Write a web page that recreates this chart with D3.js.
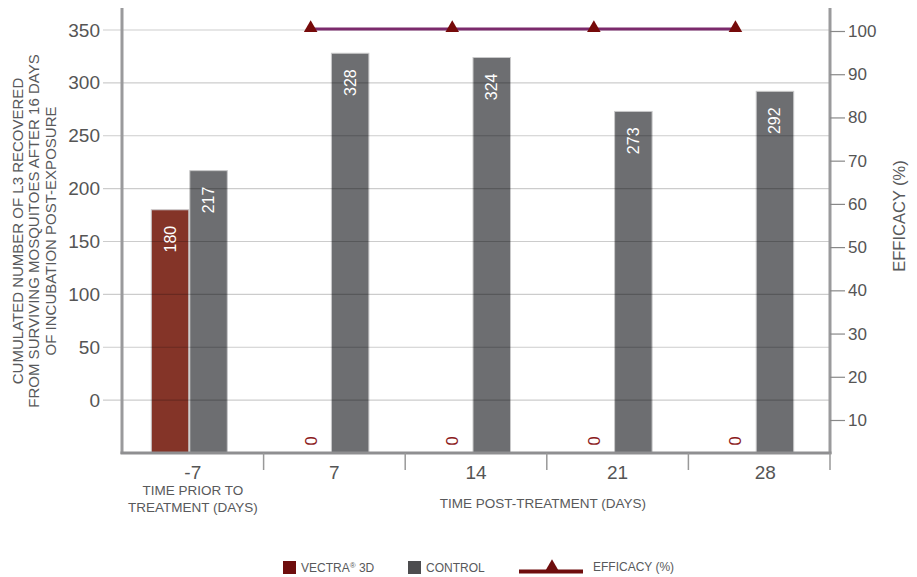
<!DOCTYPE html>
<html>
<head>
    <meta charset="UTF-8">
    <title>Chart</title>
    <script src="https://cdn.jsdelivr.net/npm/d3@7"></script>
    <style>
        body { margin: 0; background: #fff; }
        text { font-family: "Liberation Sans", Arial, sans-serif; }
    </style>
</head>
<body>
<div id="graph-container"></div>
<script>
    // Chart data
    const categories = ["-7", "7", "14", "21", "28"];
    const vectra = [180, 0, 0, 0, 0];
    const control = [217, 328, 324, 273, 292];
    const efficacyDays = ["7", "14", "21", "28"];
    const efficacy = [100, 100, 100, 100];
    const leftTicks = [0, 50, 100, 150, 200, 250, 300, 350];
    const rightTicks = [10, 20, 30, 40, 50, 60, 70, 80, 90, 100];

    const W = 917, H = 577;
    const plot = { left: 122, right: 830, top: 8, bottom: 453 };

    const svg = d3.select("#graph-container")
        .append("svg")
        .attr("width", W)
        .attr("height", H);

    // Scales
    const x = d3.scaleBand().domain(categories).range([plot.left, plot.right]);
    const xSub = d3.scaleBand().domain(["vectra", "control"]).range([-42, 35]);
    const yL = d3.scaleLinear().domain([-50, 350]).range([plot.bottom, 30]);
    const yR = d3.scaleLinear().domain([10, 100]).range([420, 31]);
    const center = c => x(c) + x.bandwidth() / 2;

    const rows = categories.map((c, i) => ({ cat: c, vectra: vectra[i], control: control[i] }));

    // Bars (drawn from the bottom of the plot)
    const series = [
        { key: "vectra", color: "#843428" },
        { key: "control", color: "#6d6e71" }
    ];
    series.forEach(s => {
        svg.selectAll(".bar-" + s.key)
            .data(rows.filter(d => d[s.key] > 0))
            .join("rect")
            .attr("class", "bar-" + s.key)
            .attr("x", d => center(d.cat) + xSub(s.key) + 0.5)
            .attr("width", xSub.bandwidth() - 1)
            .attr("y", d => yL(d[s.key]))
            .attr("height", d => plot.bottom - yL(d[s.key]))
            .attr("fill", s.color)
            .attr("stroke", "#c9c9ca")
            .attr("stroke-width", 1);
    });

    // Gridlines over bars
    svg.append("g")
        .selectAll("line")
        .data(leftTicks)
        .join("line")
        .attr("x1", 103)
        .attr("x2", plot.right)
        .attr("y1", d => yL(d))
        .attr("y2", d => yL(d))
        .attr("stroke", "#000")
        .attr("stroke-opacity", 0.2)
        .attr("stroke-width", 1.2);

    // Bar value labels
    series.forEach(s => {
        svg.selectAll(".lbl-" + s.key)
            .data(rows.filter(d => d[s.key] > 0))
            .join("text")
            .attr("class", "lbl-" + s.key)
            .attr("transform", d => {
                const cx = center(d.cat) + xSub(s.key) + xSub.bandwidth() / 2;
                return `translate(${cx},${yL(d[s.key]) + 16}) rotate(-90)`;
            })
            .attr("text-anchor", "end")
            .attr("dominant-baseline", "central")
            .attr("fill", "#fff")
            .style("font-size", "16px")
            .text(d => d[s.key]);
    });

    // Zero labels for vectra
    svg.selectAll(".zero")
        .data(rows.filter(d => d.vectra === 0))
        .join("text")
        .attr("class", "zero")
        .attr("transform", d => {
            const cx = center(d.cat) + xSub("vectra") + xSub.bandwidth() / 2;
            return `translate(${cx - 1},${plot.bottom - 12}) rotate(-90)`;
        })
        .attr("text-anchor", "middle")
        .attr("dominant-baseline", "central")
        .attr("fill", "#8b1a1a")
        .style("font-size", "16.5px")
        .text("0");

    // Axis lines
    svg.append("line")
        .attr("x1", plot.left).attr("x2", plot.left)
        .attr("y1", plot.top).attr("y2", plot.bottom + 1)
        .attr("stroke", "#9a9a9c").attr("stroke-width", 3);
    svg.append("line")
        .attr("x1", plot.right).attr("x2", plot.right)
        .attr("y1", plot.top).attr("y2", plot.bottom + 1)
        .attr("stroke", "#9a9a9c").attr("stroke-width", 3);
    svg.append("line")
        .attr("x1", plot.left - 1.5).attr("x2", plot.right + 1.5)
        .attr("y1", plot.bottom).attr("y2", plot.bottom)
        .attr("stroke", "#8f8f91").attr("stroke-width", 3);

    // Category separators
    svg.append("g")
        .selectAll("line")
        .data(categories.slice(1).map(c => x(c)).concat([plot.right]))
        .join("line")
        .attr("x1", d => d).attr("x2", d => d)
        .attr("y1", plot.bottom).attr("y2", 470)
        .attr("stroke", "#999").attr("stroke-width", 1.5);

    // Left axis labels
    const leftAxis = svg.append("g")
        .attr("transform", `translate(${plot.left - 19},0)`)
        .call(d3.axisLeft(yL).tickValues(leftTicks).tickSize(0).tickPadding(3));
    leftAxis.select(".domain").remove();
    leftAxis.selectAll("text")
        .style("font-size", "19px")
        .style("font-family", "'Liberation Sans', Arial, sans-serif")
        .attr("fill", "#555");

    // Right axis
    const rightAxis = svg.append("g")
        .attr("transform", `translate(${plot.right},0)`)
        .call(d3.axisRight(yR).tickValues(rightTicks).tickSize(15).tickPadding(3));
    rightAxis.select(".domain").remove();
    rightAxis.selectAll("line").attr("stroke", "#888").attr("stroke-width", 1.2);
    rightAxis.selectAll("text")
        .style("font-size", "17px")
        .style("font-family", "'Liberation Sans', Arial, sans-serif")
        .attr("fill", "#555");

    // Category tick labels
    svg.selectAll(".cat")
        .data(categories)
        .join("text")
        .attr("class", "cat")
        .attr("x", d => center(d) + (d === "28" ? 6 : 0))
        .attr("y", 479)
        .attr("text-anchor", "middle")
        .attr("fill", "#555")
        .style("font-size", "19px")
        .text(d => d);

    // Axis titles
    const grey = "#58595b";
    ["TIME PRIOR TO", "TREATMENT (DAYS)"].forEach((t, i) => {
        svg.append("text")
            .attr("x", center("-7"))
            .attr("y", 495 + i * 17)
            .attr("text-anchor", "middle")
            .attr("fill", grey)
            .style("font-size", "13.5px")
            .text(t);
    });
    svg.append("text")
        .attr("x", 543)
        .attr("y", 508)
        .attr("text-anchor", "middle")
        .attr("fill", grey)
        .style("font-size", "13.5px")
        .text("TIME POST-TREATMENT (DAYS)");

    ["CUMULATED NUMBER OF L3 RECOVERED",
     "FROM SURVIVING MOSQUITOES AFTER 16 DAYS",
     "OF INCUBATION POST-EXPOSURE"].forEach((t, i) => {
        svg.append("text")
            .attr("transform", `translate(${17.5 + i * 16.3},231) rotate(-90)`)
            .attr("text-anchor", "middle")
            .attr("dominant-baseline", "central")
            .attr("fill", grey)
            .style("font-size", "15px")
            .text(t);
    });

    svg.append("text")
        .attr("transform", "translate(899,216) rotate(-90)")
        .attr("text-anchor", "middle")
        .attr("dominant-baseline", "central")
        .attr("fill", grey)
        .style("font-size", "16.5px")
        .text("EFFICACY (%)");

    // Efficacy line with triangle markers
    const effPts = efficacyDays.map((d, i) => ({ day: d, value: efficacy[i] }));
    const effX = d => center(d) + xSub("vectra") + xSub.bandwidth() / 2 - 1;
    svg.append("path")
        .datum(effPts)
        .attr("fill", "none")
        .attr("stroke", "#7b2a6c")
        .attr("stroke-width", 3)
        .attr("d", d3.line().x(d => effX(d.day)).y(d => yR(d.value) - 2));

    svg.selectAll(".tri")
        .data(effPts)
        .join("path")
        .attr("class", "tri")
        .attr("transform", d => `translate(${effX(d.day)},${yR(d.value) - 3})`)
        .attr("d", d3.symbol(d3.symbolTriangle).size(80))
        .attr("fill", "#760a0a");

    // Legend
    const legend = svg.append("g");
    legend.append("rect")
        .attr("x", 283).attr("y", 561).attr("width", 13).attr("height", 13)
        .attr("fill", "#6e0d0d");
    legend.append("text")
        .attr("x", 301).attr("y", 572)
        .attr("fill", grey).style("font-size", "12px")
        .call(t => {
            t.append("tspan").text("VECTRA");
            t.append("tspan").attr("dy", -4).style("font-size", "8px").text("®");
            t.append("tspan").attr("dy", 4).text(" 3D");
        });
    legend.append("rect")
        .attr("x", 408).attr("y", 561).attr("width", 13).attr("height", 13)
        .attr("fill", "#4d4d4f");
    legend.append("text")
        .attr("x", 426).attr("y", 572)
        .attr("fill", grey).style("font-size", "12px")
        .text("CONTROL");
    legend.append("line")
        .attr("x1", 519).attr("x2", 583)
        .attr("y1", 571.5).attr("y2", 571.5)
        .attr("stroke", "#6e0d0d").attr("stroke-width", 4);
    legend.append("path")
        .attr("transform", "translate(552,567)")
        .attr("d", d3.symbol(d3.symbolTriangle).size(80))
        .attr("fill", "#6e0d0d");
    legend.append("text")
        .attr("x", 593).attr("y", 571)
        .attr("fill", grey).style("font-size", "12px")
        .text("EFFICACY (%)");
</script>
</body>
</html>
